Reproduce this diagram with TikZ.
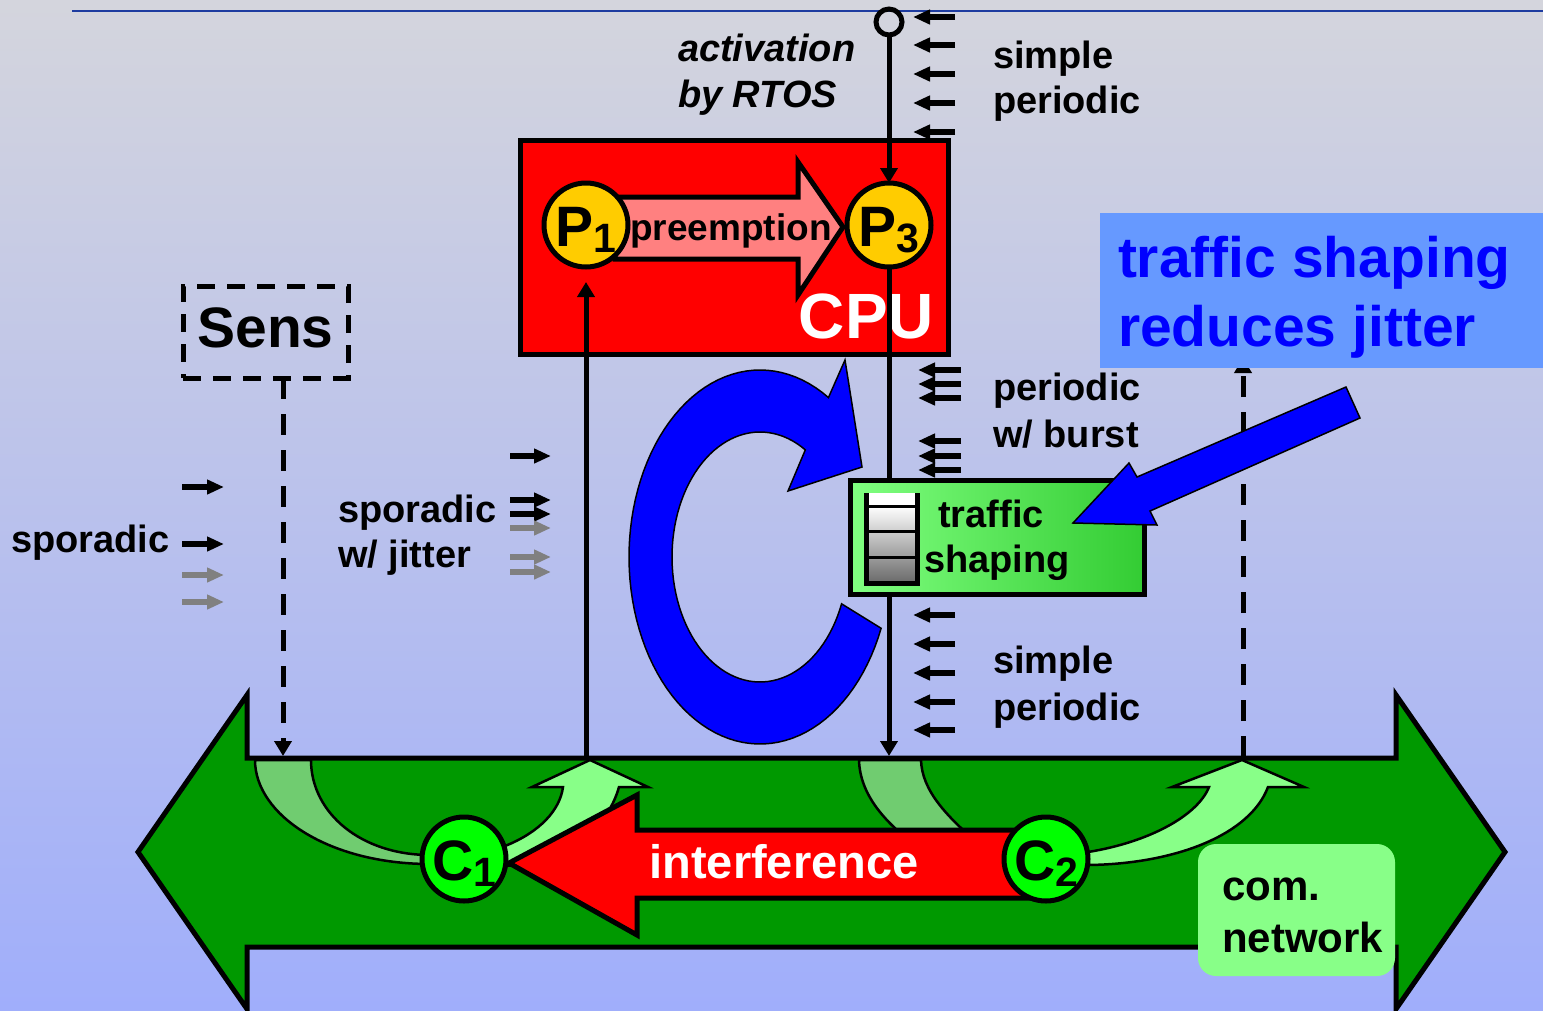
\documentclass[tikz,border=0pt]{standalone}
\usepackage{fontspec}
\setmainfont{Liberation Sans}
\usetikzlibrary{arrows.meta}

\definecolor{bgtop}{RGB}{212,213,221}
\definecolor{bgbot}{RGB}{160,174,251}
\definecolor{rulecol}{RGB}{30,60,160}
\definecolor{gold}{RGB}{255,204,0}
\definecolor{preempt}{RGB}{255,128,128}
\definecolor{busgreen}{RGB}{0,153,0}
\definecolor{bandgreen}{RGB}{112,204,112}
\definecolor{paleg}{RGB}{136,255,136}
\definecolor{cgreen}{RGB}{0,255,0}
\definecolor{shapeL}{RGB}{128,255,128}
\definecolor{shapeR}{RGB}{51,204,51}
\definecolor{calloutbg}{RGB}{102,153,255}
\definecolor{pureblue}{RGB}{0,0,255}
\definecolor{evgray}{RGB}{128,128,128}

% lowered index for process / channel names
\newcommand\lowidx[1]{\raisebox{-6pt}{\fontsize{41}{41}\selectfont #1}}

\begin{document}
\begin{tikzpicture}[x=1pt,y=-1pt,
  every node/.style={inner sep=0pt, outer sep=0pt},
  lbl/.style={font=\fontsize{38}{38}\selectfont\bfseries, anchor=base west},
  tick/.style={line width=5.5pt, -{Triangle[length=17pt,width=14pt]}},
  graytick/.style={tick, draw=evgray},
  link/.style={line width=5pt, -{Triangle[length=15pt,width=17pt]}},
  dashlink/.style={link, dash pattern=on 21pt off 15pt},
  outline/.style={draw, line width=5pt, line join=miter},
  proc/.style={circle, draw, line width=5pt, fill=gold, minimum size=84pt,
    text height=42pt, text depth=0pt, font=\bfseries},
  chan/.style={proc, fill=cgreen},
  pale/.style={fill=paleg, draw, line width=2.5pt, line join=miter}]

\useasboundingbox (0,0) rectangle (1543,1010);
\clip (0,0) rectangle (1543,1010);
\fill[top color=bgtop, bottom color=bgbot] (0,0) rectangle (1543,1010);
\draw[rulecol, line width=2pt] (72,11) -- (1543,11);

% communication network: double arrow
\filldraw[fill=busgreen, outline] (247,758) -- (1396,758) -- (1396,695) -- (1505,852)
  -- (1396,1009) -- (1396,947) -- (247,947) -- (247,1009) -- (138,852) -- (247,695) -- cycle;

% bus attachment points
\coordinate (busS) at (283,756);
\coordinate (busP1) at (586,757);
\coordinate (busP3) at (889,756);
\coordinate (busA) at (1243,757);

% incoming bands towards the channels
\filldraw[fill=bandgreen, line width=2.5pt] (255,760) .. controls (255,815) and (329,864) .. (430,864)
  -- (430,855) .. controls (361,855) and (311,813) .. (311,760) -- cycle;
\filldraw[fill=bandgreen, line width=2.5pt] (859,760) .. controls (860,795) and (885,822) .. (915,845)
  -- (980,845) .. controls (945,815) and (922,790) .. (921,760) -- cycle;

% outgoing curved arrows from the channels
\filldraw[pale] (505,846) .. controls (540,832) and (560,810) .. (563,787) -- (532,787) -- (590,760)
  -- (648,787) -- (619,787) .. controls (607,830) and (565,862) .. (505,866) -- cycle;
\filldraw[pale] (1088,852) .. controls (1150,842) and (1198,815) .. (1209,787) -- (1172,787) -- (1242,760)
  -- (1304,787) -- (1268,787) .. controls (1250,835) and (1175,864) .. (1088,865) -- cycle;

% interference arrow
\filldraw[fill=red, outline] (509,863) -- (637,795) -- (637,830) -- (1035,830) -- (1035,898)
  -- (637,898) -- (637,935) -- cycle;
\node[font=\fontsize{47}{47}\selectfont\bfseries, text=white, anchor=base] (interf) at (784,878) {interference};

% channels
\node[chan] (C1) at (464,859) {{\fontsize{57}{57}\selectfont C}\lowidx{1}};
\node[chan] (C2) at (1046,859) {{\fontsize{57}{57}\selectfont C}\lowidx{2}};

% network label
\node[fill=paleg, rounded corners=18pt, minimum width=197pt, minimum height=132pt] (comnet) at (1296.5,910) {};
\node[lbl, font=\fontsize{42}{42}\selectfont\bfseries] (comnet1) at (1222,900) {com.};
\node[lbl, font=\fontsize{42}{42}\selectfont\bfseries] (comnet2) at (1222,952) {network};

% sensor
\node[draw, line width=5pt, dash pattern=on 18pt off 12pt, minimum width=165pt, minimum height=92pt,
  text height=41pt, text depth=10pt, font=\fontsize{57}{57}\selectfont\bfseries] (sens) at (265.5,332) {Sens};
\draw[dashlink] (sens.south -| busS) -- (busS);

% scheduling cycle
\filldraw[fill=pureblue, draw=black, line width=1.5pt]
  plot[domain=-58.5:-337.6, samples=90, variable=\t] ({760+131*cos(\t)}, {557+187*sin(\t)})
  -- plot[domain=-338:-59, samples=90, variable=\t] ({760+88*cos(\t)}, {557+125*sin(\t)})
  -- (788,491) -- (862,467) -- (845,360) -- cycle;

% CPU
\node[fill=red, outline, minimum width=428pt, minimum height=214pt] (cpu) at (734,247) {};
\node[font=\fontsize{64}{64}\selectfont\bfseries, text=white, anchor=base east] (cpulbl) at (934,338) {CPU};
\filldraw[fill=preempt, outline] (615,197) -- (798,197) -- (798,162) -- (843,227) -- (798,295)
  -- (798,259) -- (615,259) -- cycle;
\node[proc] (P1) at (586,225) {{\fontsize{57}{57}\selectfont P}\lowidx{1}};
\node[proc] (P3) at (889,225) {{\fontsize{57}{57}\selectfont P}\lowidx{3}};
\node[font=\fontsize{37}{37}\selectfont\bfseries, anchor=base] (preemp) at (731,240) {preemption};

% RTOS activation
\node[circle, draw, line width=5pt, minimum size=26pt] (act) at (889,22) {};
\draw[link] (act) -- (P3);
\node[lbl, font=\fontsize{38}{38}\selectfont\bfseries\itshape] (act1) at (678,61) {activation};
\node[lbl, font=\fontsize{38}{38}\selectfont\bfseries\itshape] (act2) at (678,107) {by RTOS};

\draw[link, shorten >=15pt] (busP1) -- (P1);

% traffic shaper
\node[outline, left color=shapeL, right color=shapeR, minimum width=294pt, minimum height=114pt] (shaper) at (997.5,537.5) {};
\fill[white] (866,493) rectangle (917.5,506);
\fill[top color=white, bottom color={rgb,255:red,105;green,105;blue,105}] (866,506) rectangle (917.5,583);
\draw[line width=3pt] (866,506) -- (917.5,506) (866,531.5) -- (917.5,531.5) (866,557.5) -- (917.5,557.5);
\draw[line width=5pt, line join=miter] (866,493) -- (866,583) -- (917.5,583) -- (917.5,493);
\node[font=\fontsize{38}{38}\selectfont\bfseries, anchor=base] (ts1) at (991,527) {traffic};
\node[font=\fontsize{38}{38}\selectfont\bfseries, anchor=base] (ts2) at (997,572) {shaping};

\draw[line width=5pt] (P3) -- (P3 |- shaper.north);
\draw[link] (P3 |- shaper.south) -- (busP3);

% actuator path (arrow head under the note)
\draw[dashlink] (busA) -- (1243,358);

% note
\node[fill=calloutbg, minimum width=460pt, minimum height=155pt, anchor=north west] (note) at (1100,213) {};
\node[font=\fontsize{57}{57}\selectfont\bfseries, text=pureblue, anchor=base west] (note1) at (1118,277) {traffic shaping};
\node[font=\fontsize{57}{57}\selectfont\bfseries, text=pureblue, anchor=base west] (note2) at (1118,346) {reduces jitter};
\filldraw[fill=pureblue, draw=black, line width=1.5pt, line join=miter] (1346,387) -- (1360,418) -- (1150,511)
  -- (1157,525) -- (1073,523) -- (1129,463) -- (1137,477) -- cycle;

% event streams
\foreach \y in {17,45,74,103,132,615,644,673,702,730} \draw[tick] (955,\y) -- (913,\y);
\foreach \y in {370,384,398,441,456,470} \draw[tick] (961,\y) -- (918,\y);
\foreach \y in {487,544} \draw[tick] (182,\y) -- (224,\y);
\foreach \y in {575,602} \draw[graytick] (182,\y) -- (224,\y);
\foreach \y in {456,500,514} \draw[tick] (510,\y) -- (551,\y);
\foreach \y in {528,557,572} \draw[graytick] (510,\y) -- (551,\y);

\node[lbl] (sp1) at (993,68) {simple};
\node[lbl] (sp2) at (993,113) {periodic};
\node[lbl] (pb1) at (993,400) {periodic};
\node[lbl] (pb2) at (993,447) {w/ burst};
\node[lbl] (sp3) at (993,673) {simple};
\node[lbl] (sp4) at (993,720) {periodic};
\node[lbl] (spor) at (11,552) {sporadic};
\node[lbl] (sj1) at (338,522) {sporadic};
\node[lbl] (sj2) at (338,567) {w/ jitter};
\end{tikzpicture}
\end{document}
